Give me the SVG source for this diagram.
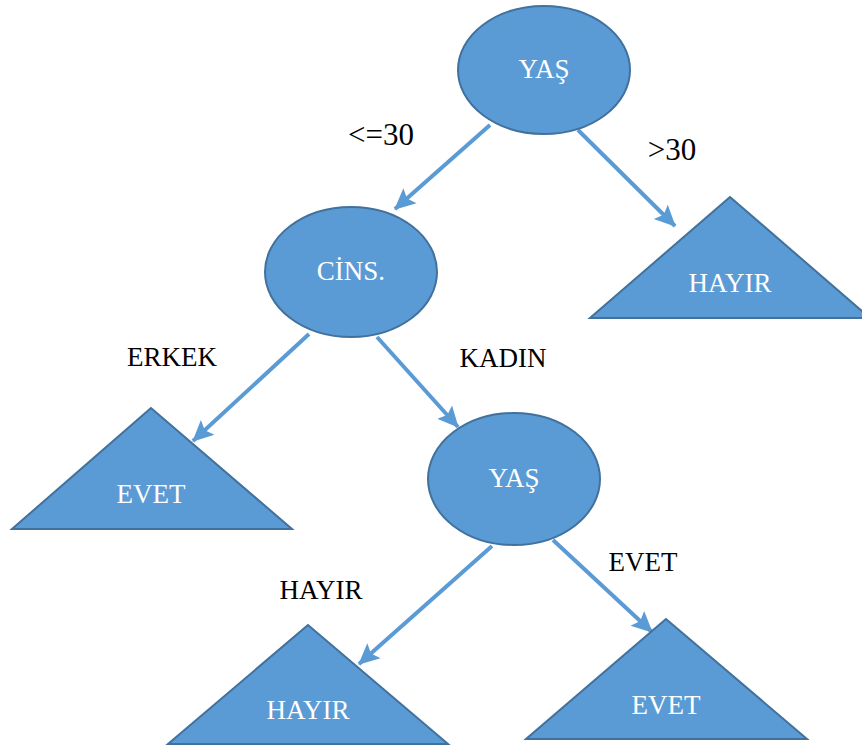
<svg xmlns="http://www.w3.org/2000/svg" width="862" height="749" viewBox="0 0 862 749">
<style>
.shape{fill:#5B9BD5;stroke:#41719C;stroke-width:2}
.in{font-family:"Liberation Serif",serif;font-size:27px;fill:#FFFFFF;text-anchor:middle}
.lbl{font-family:"Liberation Serif",serif;font-size:27px;fill:#000000;text-anchor:middle}
.big{font-size:31px}
.conn{stroke:#5B9BD5;stroke-width:4;fill:none;marker-end:url(#ah)}
</style>
<defs>
<marker id="ah" markerUnits="userSpaceOnUse" markerWidth="22" markerHeight="22" viewBox="0 0 22 22" refX="20" refY="11" orient="auto">
<path d="M0,1 L21,11 L0,21 L4,11 Z" fill="#5B9BD5"/>
</marker>
</defs>
<rect width="862" height="749" fill="#FFFFFF"/>
<g id="connectors">
<line class="conn" x1="490" y1="125" x2="395" y2="209"/>
<line class="conn" x1="578" y1="130" x2="675" y2="226"/>
<line class="conn" x1="309" y1="334" x2="193" y2="441"/>
<line class="conn" x1="377" y1="337" x2="458" y2="427"/>
<line class="conn" x1="492" y1="546" x2="359" y2="664"/>
<line class="conn" x1="553" y1="540" x2="652" y2="632"/>
</g>
<g id="labels">
<text class="lbl big" x="381" y="145">&lt;=30</text>
<text class="lbl big" x="672" y="160">&gt;30</text>
<text class="lbl" x="172" y="366">ERKEK</text>
<text class="lbl" x="503" y="367">KADIN</text>
<text class="lbl" x="321" y="599">HAYIR</text>
<text class="lbl" x="643" y="571">EVET</text>
</g>
<g id="node-yas1">
<ellipse class="shape" cx="544" cy="70" rx="86" ry="64"/>
<text class="in" x="544" y="78">YAŞ</text>
</g>
<g id="node-cins">
<ellipse class="shape" cx="351" cy="272" rx="86" ry="65"/>
<text class="in" x="351" y="280">CİNS.</text>
</g>
<g id="node-hayir1">
<polygon class="shape" points="730,197 590,318 870,318"/>
<text class="in" x="730" y="292">HAYIR</text>
</g>
<g id="node-evet1">
<polygon class="shape" points="151,408 12,529 292,529"/>
<text class="in" x="151" y="503">EVET</text>
</g>
<g id="node-yas2">
<ellipse class="shape" cx="514" cy="479" rx="86" ry="66"/>
<text class="in" x="514" y="487">YAŞ</text>
</g>
<g id="node-hayir2">
<polygon class="shape" points="308,625 168,744 448,744"/>
<text class="in" x="308" y="719">HAYIR</text>
</g>
<g id="node-evet2">
<polygon class="shape" points="666,619 526,739 807,739"/>
<text class="in" x="666" y="714">EVET</text>
</g>
</svg>
